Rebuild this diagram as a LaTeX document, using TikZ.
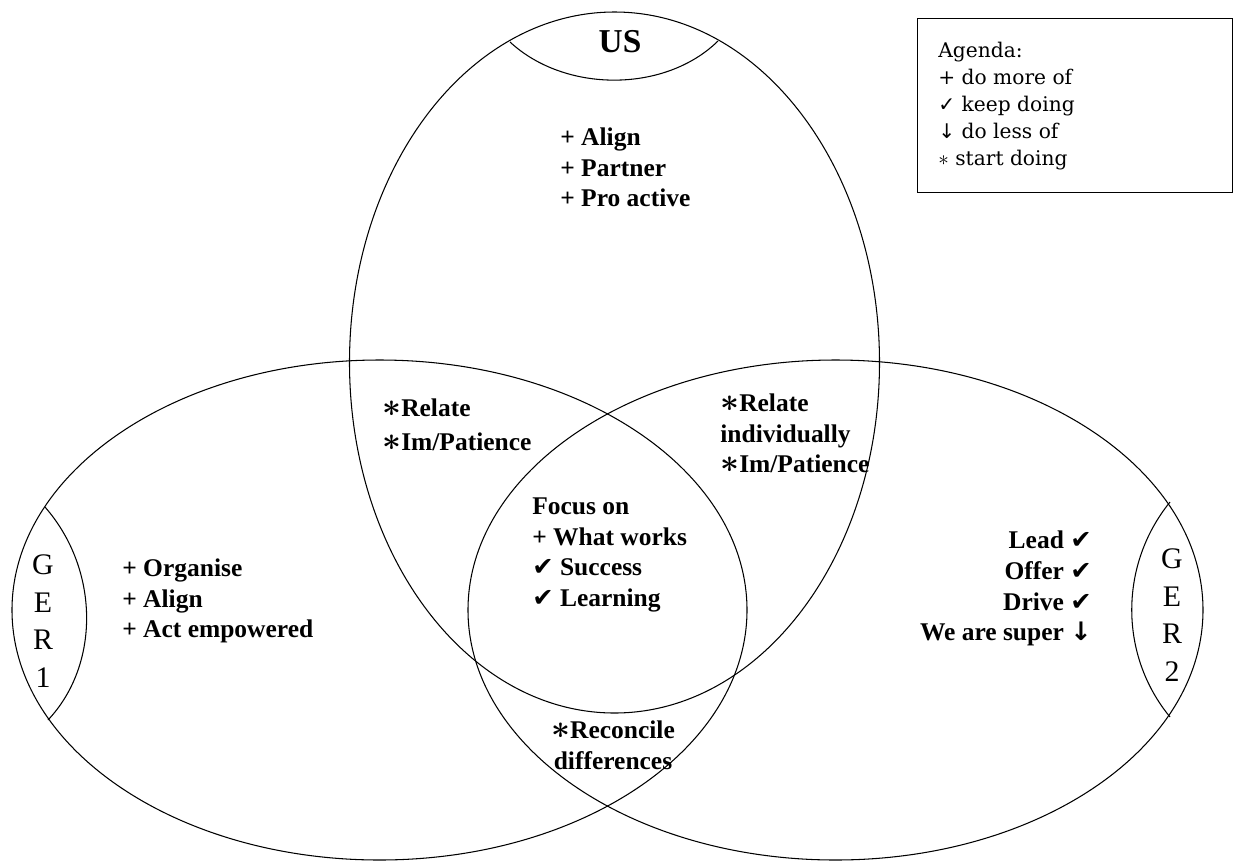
\documentclass[tikz,border=0pt]{standalone}
\usepackage{amsmath}
\usepackage{fontspec}
\setmainfont{Liberation Serif}
\newfontfamily\symfont{DejaVu Sans}
\newfontfamily\agendafont{DejaVu Serif}
\newcommand\bstar{\scalebox{1.3}{$\boldsymbol{\ast}$}}
\tikzset{
  venn/.style = {line width=0.6pt},
  item/.style = {align=left, inner sep=0pt,
    font=\fontsize{14.5}{17.5}\selectfont\bfseries},% bold entries
  itemr/.style = {item, align=right},
  tag/.style = {align=center, inner sep=0pt,
    font=\fontsize{17}{21.5}\selectfont},% GER1 / GER2 letters
  legend/.style = {align=left, inner sep=0pt,
    font=\agendafont\fontsize{11.5}{15.3}\selectfont}
}

\begin{document}
\begin{tikzpicture}[x=0.02cm, y=-0.02cm]
  \useasboundingbox (0,0) rectangle (1235,860);
  % the three sets
  \draw[venn] (614.5,362.5) ellipse [x radius=265, y radius=350.5];% US
  \draw[venn] (379.5,610) ellipse [x radius=367.5, y radius=250];% GER1
  \draw[venn] (835.5,610) ellipse [x radius=367.5, y radius=250];% GER2
  % caps holding the names
  \draw[venn] (510,42) .. controls (565,93) and (665,93) .. (718,41);
  \draw[venn] (45,507) .. controls (100,570) and (100,665) .. (48,720);
  \draw[venn] (1170,502) .. controls (1119,565) and (1119,655) .. (1170,717);
  \node[tag, font=\fontsize{19}{22}\selectfont\bfseries] (us) at (620,42) {US};
  \node[tag] (ger1) at (43,621) {G\\E\\R\\1};
  \node[tag] (ger2) at (1172,615) {G\\E\\R\\2};
  % entries
  \node[item, anchor=west] (usitems) at (560,167.5) {+ Align\\+ Partner\\+ Pro active};
  \node[item, anchor=west] (relleft) at (382,424.5)
    {\bstar Relate\\[2pt]\bstar Im/Patience};
  \node[item, anchor=west] (relright) at (720,433.5)
    {\bstar Relate\\individually\\\bstar Im/Patience};
  \node[item, anchor=west] (focus) at (532,555)
    {Focus on\\+ What works\\{\symfont ✔} Success\\{\symfont ✔} Learning};
  \node[item] (reconcile) at (613,745) [align=center]
    {\bstar Reconcile\\differences};
  \node[item, anchor=west] (gerleft) at (122,601)
    {+ Organise\\+ Align\\+ Act empowered};
  \node[itemr, anchor=east] (gerright) at (1092,588.5)
    {Lead {\symfont ✔}\\Offer {\symfont ✔}\\Drive {\symfont ✔}\\We are super {\symfont ↓}};
  % agenda
  \node[draw, line width=0.8pt, anchor=north west, minimum width=6.3cm,
    minimum height=3.48cm] (agenda) at (917,18) {};
  \node[legend, anchor=north west] (agendatext)
    at ([shift={(0.42cm,-0.48cm)}]agenda.north west)
    {Agenda:\\+ do more of\\{\symfont ✓} keep doing\\{\symfont ↓} do less of\\$\ast$ start doing};
\end{tikzpicture}
\end{document}
